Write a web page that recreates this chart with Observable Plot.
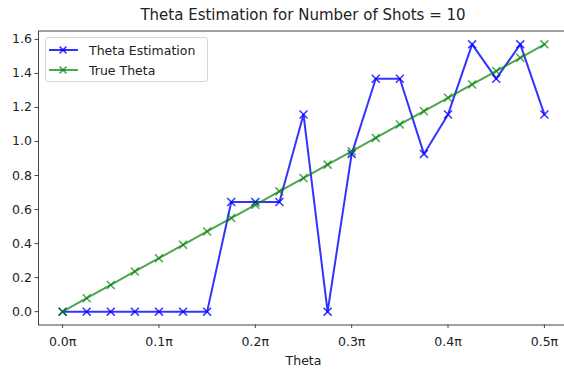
<!DOCTYPE html>
<html>
<head>
<meta charset="utf-8">
<script src="https://cdn.jsdelivr.net/npm/d3@7"></script>
<script src="https://cdn.jsdelivr.net/npm/@observablehq/plot@0.6"></script>
<style>
  html, body { margin: 0; padding: 0; background: white; overflow: hidden; }
  #wrap { position: relative; width: 564px; height: 370px; font-family: "DejaVu Sans", sans-serif; }
  #title { position: absolute; left: 38px; top: 0; width: 530px; height: 16px; padding-top: 8px; line-height: 1; text-align: center; font-size: 15px; color: #222; white-space: nowrap; }
  #chart { position: absolute; left: 0; top: 24px; }
  #legend { position: absolute; left: 45px; top: 37px; width: 161px; height: 43px; border: 1px solid #d6d6d6; border-radius: 3px; background: rgba(255,255,255,0.8); font-size: 12.5px; color: #222; }
  .row { position: absolute; left: 2px; height: 16px; display: flex; align-items: center; }
  .row svg { display: block; }
  .row span { margin-left: 11px; white-space: nowrap; }
</style>
</head>
<body>
<div id="wrap">
  <div id="title">Theta Estimation for Number of Shots = 10</div>
  <div id="chart"></div>
  <div id="legend"></div>
</div>
<script>
const thetaFrac = [0, 0.025, 0.05, 0.075, 0.1, 0.125, 0.15, 0.175, 0.2, 0.225, 0.25, 0.275, 0.3, 0.325, 0.35, 0.375, 0.4, 0.425, 0.45, 0.475, 0.5];
const thetaEstimation = [0, 0, 0, 0, 0, 0, 0, 0.644, 0.644, 0.644, 1.159, 0, 0.927, 1.369, 1.369, 0.927, 1.159, 1.571, 1.369, 1.571, 1.159];
const trueTheta = [0, 0.079, 0.157, 0.236, 0.314, 0.393, 0.471, 0.550, 0.628, 0.707, 0.785, 0.864, 0.942, 1.021, 1.100, 1.178, 1.257, 1.335, 1.414, 1.492, 1.571];
const xTicks = [0, 0.1, 0.2, 0.3, 0.4, 0.5];
const xTickLabels = ["0.0π", "0.1π", "0.2π", "0.3π", "0.4π", "0.5π"];
const yTicks = [0, 0.2, 0.4, 0.6, 0.8, 1.0, 1.2, 1.4, 1.6];
const yTickLabels = ["0.0", "0.2", "0.4", "0.6", "0.8", "1.0", "1.2", "1.4", "1.6"];
const seriesNames = ["Theta Estimation", "True Theta"];
const seriesColors = ["blue", "green"];
const seriesOpacity = [0.8, 0.7];

const rows = thetaFrac.map((t, i) => ({ t, est: thetaEstimation[i], tru: trueTheta[i] }));

const chart = Plot.plot({
  width: 564,
  height: 346,
  marginLeft: 38,
  marginRight: -4,
  marginTop: 6.5,
  marginBottom: 45.5,
  x: { domain: [-0.025, 0.525] },
  y: { domain: [-0.0785, 1.6493] },
  style: { fontFamily: "DejaVu Sans, sans-serif", fontSize: "12.5px", color: "#222", background: "white", overflow: "visible" },
  marks: [
    Plot.axisY({ ticks: yTicks, tickFormat: d => yTickLabels[yTicks.indexOf(d)], tickSize: 3.5, tickPadding: 3, label: null, stroke: "#444" }),
    Plot.axisX({ ticks: xTicks, tickFormat: d => xTickLabels[xTicks.indexOf(d)], tickSize: 3.5, tickPadding: 9, label: "Theta", labelAnchor: "center", labelArrow: "none", labelOffset: 40, stroke: "#444" }),
    Plot.line(rows, { x: "t", y: "est", stroke: seriesColors[0], strokeWidth: 2, strokeOpacity: seriesOpacity[0] }),
    Plot.dot(rows, { x: "t", y: "est", symbol: "times", r: 3.7, stroke: seriesColors[0], strokeWidth: 1.5, strokeOpacity: seriesOpacity[0] }),
    Plot.line(rows, { x: "t", y: "tru", stroke: seriesColors[1], strokeWidth: 2, strokeOpacity: seriesOpacity[1] }),
    Plot.dot(rows, { x: "t", y: "tru", symbol: "times", r: 3.7, stroke: seriesColors[1], strokeWidth: 1.5, strokeOpacity: seriesOpacity[1] }),
    Plot.frame({ stroke: "#444", strokeWidth: 1 })
  ]
});
document.getElementById("chart").appendChild(chart);

const legend = document.getElementById("legend");
seriesNames.forEach((name, i) => {
  const row = document.createElement("div");
  row.className = "row";
  row.style.top = (4 + i * 20) + "px";
  row.innerHTML = `<svg width="30" height="16"><g stroke="${seriesColors[i]}" stroke-opacity="${seriesOpacity[i]}"><line x1="1" y1="8" x2="30" y2="8" stroke-width="2"/><path d="M11.6,4.6L18.4,11.4M18.4,4.6L11.6,11.4" stroke-width="1.5"/></g></svg><span>${name}</span>`;
  legend.appendChild(row);
});
</script>
</body>
</html>
